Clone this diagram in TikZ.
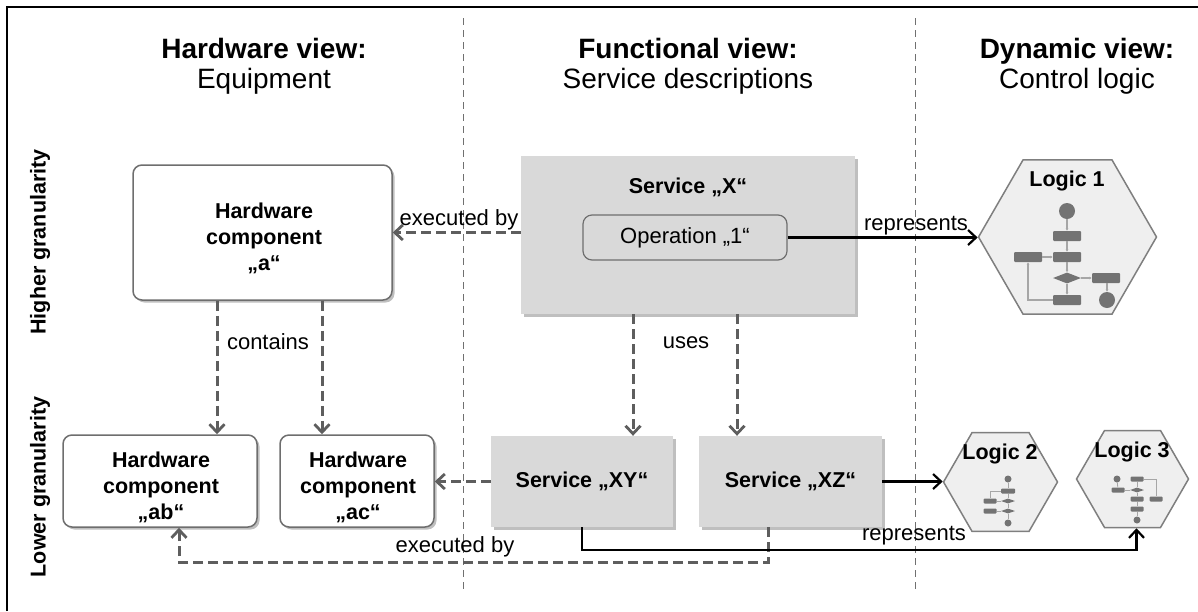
\documentclass[tikz,border=0pt]{standalone}
\usepackage{fontspec}
\setmainfont{Liberation Sans}
\usetikzlibrary{arrows.meta,shapes.geometric,shadows,calc}

\definecolor{boxline}{HTML}{6E6E6E}
\definecolor{svcfill}{HTML}{D9D9D9}
\definecolor{hexfill}{HTML}{EFEFEF}
\definecolor{hexline}{HTML}{7F7F7F}
\definecolor{arrowgray}{HTML}{5E5E5E}
\definecolor{chartgray}{HTML}{737373}
\definecolor{chartline}{HTML}{A6A6A6}
\definecolor{sepgray}{HTML}{707070}

\tikzset{
  body/.style={font=\fontsize{22}{26}\selectfont},
  bodybf/.style={font=\bfseries\fontsize{21.5}{26}\selectfont},
  header/.style={font=\fontsize{28}{30}\selectfont, anchor=base, inner sep=0pt},
  softshadow/.style={drop shadow={shadow xshift=2.5pt, shadow yshift=-2.5pt, fill=black, opacity=0.25}},
  hwbox/.style={draw=boxline, line width=1.5pt, fill=white, rounded corners=9pt,
    inner sep=0pt, softshadow},
  hwtext/.style={align=center, bodybf, inner sep=0pt},
  svcbox/.style={fill=svcfill, draw=none, align=center, bodybf, inner sep=0pt, softshadow},
  opbox/.style={draw=boxline, line width=1.2pt, fill=svcfill, rounded corners=9pt,
    body, inner sep=0pt, minimum width=204pt, minimum height=45pt},
  hexa/.style={regular polygon, regular polygon sides=6, draw=hexline, line width=1.5pt,
    fill=hexfill, inner sep=0pt},
  lbl/.style={body, inner sep=1pt},
  dasharrow/.style={draw=arrowgray, line width=3pt, dash pattern=on 10pt off 5pt,
    -{Straight Barb[length=8pt,width=15pt,line width=2.8pt]}},
  solidarrow/.style={draw=black, line width=2.2pt,
    -{Straight Barb[length=8pt,width=15pt,line width=2.2pt]}},
  separator/.style={draw=sepgray, line width=1pt, dash pattern=on 7pt off 5pt},
  fcrect/.style={fill=chartgray, draw=none, rounded corners=1pt, inner sep=0pt},
  fcdot/.style={circle, fill=chartgray, draw=none, inner sep=0pt},
  fcdia/.style={diamond, fill=chartgray, draw=none, inner sep=0pt, aspect=2.5},
  fcl/.style={draw=chartline, line width=1.2pt, -{Latex[length=2.5pt,width=3pt]}},
  fcs/.style={draw=chartline, line width=0.8pt},
}

\begin{document}
\begin{tikzpicture}[x=1pt,y=-1pt]
\useasboundingbox (0,0) rectangle (1198,611);

% frame (left and top edges)
\draw[line width=2pt] (7,611) -- (7,7) -- (1198,7);

% column separators
\draw[separator] (463,18) -- (463,592);
\draw[separator] (915,18) -- (915,592);

% column headers
\node[header, font=\bfseries\fontsize{28}{30}\selectfont] (h1a) at (264,58) {Hardware view:};
\node[header] (h1b) at (264,88) {Equipment};
\node[header, font=\bfseries\fontsize{28}{30}\selectfont] (h2a) at (688,58) {Functional view:};
\node[header] (h2b) at (688,88) {Service descriptions};
\node[header, font=\bfseries\fontsize{28}{30}\selectfont] (h3a) at (1077,58) {Dynamic view:};
\node[header] (h3b) at (1077,88) {Control logic};

% row labels
\node[bodybf, rotate=90] (rowhi) at (40,242) {Higher granularity};
\node[bodybf, rotate=90] (rowlo) at (40,487) {Lower granularity};

% hardware components
\node[hwbox, minimum width=259pt, minimum height=135pt] (hwa) at (262.5,232.5) {};
\node[hwtext] (hwat) at (264,238) {Hardware\\component\\„a“};
\node[hwbox, minimum width=194pt, minimum height=92pt] (hwab) at (160,481) {};
\node[hwtext] (hwabt) at (161,487) {Hardware\\component\\„ab“};
\node[hwbox, minimum width=154pt, minimum height=92pt] (hwac) at (357,481) {};
\node[hwtext] (hwact) at (358,487) {Hardware\\component\\„ac“};

% services
\node[svcbox, minimum width=334pt, minimum height=158pt] (svx) at (688,235) {};
\node[bodybf, inner sep=0pt] (svxtitle) at (688,187) {Service „X“};
\node[opbox] (op1) at (685,237.5) {Operation „1“};
\node[svcbox, minimum width=182pt, minimum height=91pt] (svxy) at (582,481.5) {Service „XY“};
\node[svcbox, minimum width=183pt, minimum height=91pt] (svxz) at (790.5,481.5) {Service „XZ“};

% control logic hexagons
\node[hexa, minimum size=178pt] (lg1) at (1067.5,237) {};
\node[bodybf, inner sep=0pt] (lg1t) at (1067,181) {Logic 1};
\node[hexa, minimum size=114pt] (lg2) at (1000.5,482) {};
\node[bodybf, inner sep=0pt] (lg2t) at (1000,454) {Logic 2};
\node[hexa, minimum size=112pt] (lg3) at (1132.5,479) {};
\node[bodybf, inner sep=0pt] (lg3t) at (1132,452) {Logic 3};

% flowchart inside Logic 1
\node[fcdot, minimum size=16pt] (a1) at (1067,211) {};
\node[fcrect, minimum width=28pt, minimum height=10pt] (a2) at (1067,236) {};
\node[fcrect, minimum width=28pt, minimum height=10pt] (a3) at (1067,257) {};
\node[fcrect, minimum width=28pt, minimum height=10pt] (a4) at (1028,257) {};
\node[fcdia, minimum width=28pt, minimum height=11pt] (a5) at (1067,278) {};
\node[fcrect, minimum width=28pt, minimum height=10pt] (a6) at (1106,278) {};
\node[fcrect, minimum width=28pt, minimum height=10pt] (a7) at (1067,300) {};
\node[fcdot, minimum size=16pt] (a8) at (1107,300) {};
\draw[fcl] (a1) -- (a2);
\draw[fcl] (a2) -- (a3);
\draw[fcl] (a4) -- (a3);
\draw[fcl] (a3) -- (a5);
\draw[fcl] (a5) -- (a7);
\draw[fcl] (a5) -- (a6);
\draw[fcl] (a6.south -| a8) -- (a8);
\draw[fcl] (a7.west) -| (a4.south);

% flowchart inside Logic 2
\node[fcdot, minimum size=7pt] (b1) at (1008,479) {};
\node[fcrect, minimum width=14pt, minimum height=5pt] (b2) at (1008,491) {};
\node[fcdia, minimum width=14pt, minimum height=5pt] (b3) at (1008,501) {};
\node[fcrect, minimum width=13pt, minimum height=5pt] (b4) at (990,501) {};
\node[fcdia, minimum width=14pt, minimum height=5pt] (b5) at (1008,511) {};
\node[fcrect, minimum width=13pt, minimum height=5pt] (b6) at (990,511) {};
\node[fcdot, minimum size=7pt] (b7) at (1008,523) {};
\draw[fcs] (b1) -- (b2) -- (b3) -- (b5) -- (b7);
\draw[fcs] (b4) -- (b3);
\draw[fcs] (b6) -- (b5);
\draw[fcs] (b2.west) -| (b4.north);

% flowchart inside Logic 3
\node[fcdot, minimum size=7pt] (c1) at (1117,479) {};
\node[fcrect, minimum width=13pt, minimum height=5pt] (c2) at (1118,490) {};
\node[fcrect, minimum width=13pt, minimum height=5pt] (c3) at (1137,479) {};
\node[fcdia, minimum width=14pt, minimum height=5pt] (c4) at (1137,490) {};
\node[fcrect, minimum width=13pt, minimum height=5pt] (c5) at (1137,499) {};
\node[fcrect, minimum width=13pt, minimum height=5pt] (c6) at (1137,509) {};
\node[fcdot, minimum size=7pt] (c7) at (1137,520) {};
\node[fcrect, minimum width=13pt, minimum height=5pt] (c8) at (1156,499) {};
\draw[fcs] (c1) -- (c2);
\draw[fcs] (c3) -- (c4) -- (c5) -- (c6) -- (c7);
\draw[fcs] (c2) -- (c4);
\draw[fcs] (c3.east) -| (c8.north);

% relations: executed by
\draw[dasharrow] (svx.west |- hwa.east) -- (hwa.east);
\node[lbl] (lexec1) at (459,220) {executed by};
\draw[dasharrow] (svxy.west) -- (svxy.west -| hwac.east);
\draw[dasharrow] ([xshift=-22.5pt]svxz.south) -- ++(0,35) -| ([xshift=19pt]hwab.south);
\node[lbl] (lexec2) at (455,547) {executed by};

% relations: contains
\draw[dasharrow] ([xshift=-45.5pt]hwa.south) -- ([xshift=-45.5pt]hwa.south |- hwab.north);
\draw[dasharrow] ([xshift=59.5pt]hwa.south) -- ([xshift=59.5pt]hwa.south |- hwac.north);
\node[lbl] (lcont) at (268,342) {contains};

% relations: uses
\draw[dasharrow] ([xshift=-55pt]svx.south) -- ([xshift=-55pt]svx.south |- svxy.north);
\draw[dasharrow] ([xshift=49pt]svx.south) -- ([xshift=49pt]svx.south |- svxz.north);
\node[lbl] (luses) at (686,343) {uses};

% relations: represents
\draw[solidarrow] (op1.east) -- (op1.east -| lg1.west);
\node[lbl] (lrep1) at (916,226) {represents};
\draw[solidarrow] (svxz.east) -- (svxz.east -| lg2.west);
\draw[solidarrow] (svxy.south) -- ++(0,23) -| ([xshift=4pt]lg3.south);
\node[lbl] (lrep2) at (914,536) {represents};

\end{tikzpicture}
\end{document}
